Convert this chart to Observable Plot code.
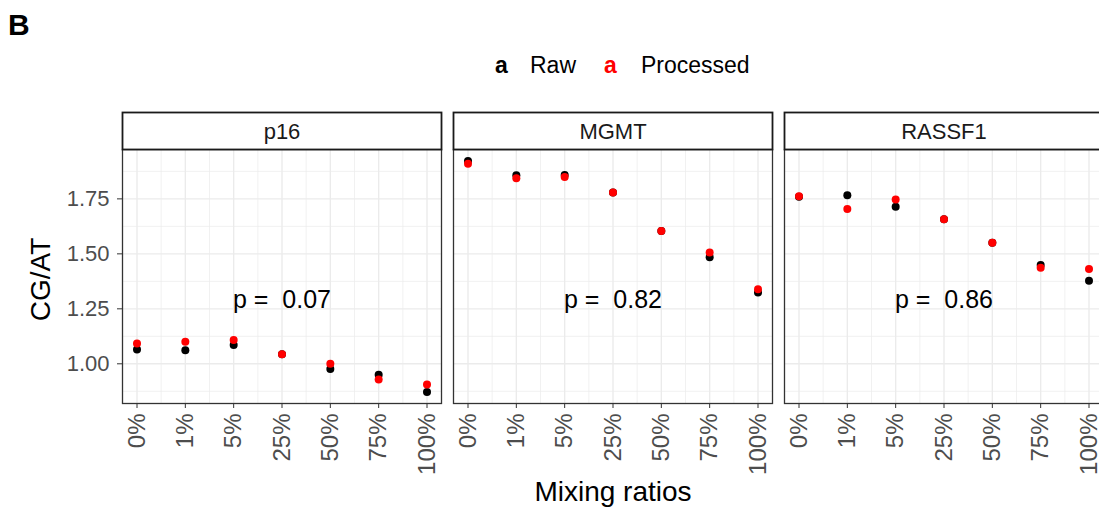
<!DOCTYPE html>
<html><head><meta charset="utf-8">
<script src="https://cdn.jsdelivr.net/npm/d3@7"></script>
<script src="https://cdn.jsdelivr.net/npm/@observablehq/plot@0.6"></script>
<style>
html,body{margin:0;padding:0;overflow:hidden;background:#fff;}
#wrap{position:relative;width:1099px;height:508px;overflow:hidden;font-family:"Liberation Sans",Arial,sans-serif;}
#wrap svg{display:block;max-width:none !important;}
svg text{white-space:pre;}
</style></head><body><div id="wrap"></div>
<script>
const genes = ["p16", "MGMT", "RASSF1"];
const ratios = ["0%", "1%", "5%", "25%", "50%", "75%", "100%"];
const rawP16 = [1.065, 1.062, 1.086, 1.044, 0.976, 0.950, 0.872];
const procP16 = [1.092, 1.100, 1.108, 1.044, 1.000, 0.929, 0.906];
const rawMGMT = [1.922, 1.857, 1.858, 1.779, 1.604, 1.485, 1.324];
const procMGMT = [1.910, 1.844, 1.850, 1.779, 1.604, 1.506, 1.339];
const rawRASSF1 = [1.760, 1.767, 1.714, 1.657, 1.550, 1.449, 1.378];
const procRASSF1 = [1.762, 1.704, 1.747, 1.657, 1.550, 1.437, 1.431];
const pValues = ["0.07", "0.82", "0.86"];
const yTicks = [1.00, 1.25, 1.50, 1.75];
const yMinor = [0.875, 1.125, 1.375, 1.625, 1.875];
const seriesNames = ["Raw", "Processed"];

const rawSeries = [rawP16, rawMGMT, rawRASSF1];
const procSeries = [procP16, procMGMT, procRASSF1];
function rowsOf(series) {
  const rows = [];
  series.forEach((vals, g) => vals.forEach((v, i) => rows.push({gene: genes[g], pos: i + 1, value: v})));
  return rows;
}
const rawRows = rowsOf(rawSeries);
const procRows = rowsOf(procSeries);
const pRows = genes.map((g, i) => ({gene: g, text: "p =  " + pValues[i]}));
const xTicks = ratios.map((_, i) => i + 1);
const xMinor = ratios.slice(1).map((_, i) => i + 1.5);

const all = rawRows.concat(procRows).map(d => d.value);
const lo = d3.min(all), hi = d3.max(all), pad = (hi - lo) * 0.05;
const xpad = (ratios.length - 1) * 0.05;

const font = '"Liberation Sans", Arial, sans-serif';
const wrap = d3.select("#wrap");

// header: panel letter + legend
const head = wrap.append("svg").attr("width", 1099).attr("height", 100).style("font-family", font);
head.append("text").attr("x", 8).attr("y", 35).attr("font-size", 30).attr("font-weight", "bold").text("B");
const legendColors = ["#000000", "#FF0000"];
const legendX = [[495, 530], [604, 641]];
seriesNames.forEach((name, i) => {
  head.append("text").attr("x", legendX[i][0]).attr("y", 73).attr("font-size", 23).attr("font-weight", "bold")
    .attr("fill", legendColors[i]).text("a");
  head.append("text").attr("x", legendX[i][1]).attr("y", 73).attr("font-size", 23).attr("fill", "#000").text(name);
});

const chart = Plot.plot({
  width: 1104, height: 408,
  marginTop: 49, marginBottom: 105, marginLeft: 122, marginRight: 1,
  style: {fontFamily: font, background: "transparent", overflow: "visible", maxWidth: "none"},
  fx: {domain: genes, paddingInner: 12 / 331, paddingOuter: 0, axis: null, label: null},
  x: {domain: [1 - xpad, ratios.length + xpad]},
  y: {domain: [lo - pad, hi + pad]},
  marks: [
    Plot.gridY(yMinor, {stroke: "#EBEBEB", strokeOpacity: 1, strokeWidth: 0.7}),
    Plot.gridX(xMinor, {stroke: "#EBEBEB", strokeOpacity: 1, strokeWidth: 0.7}),
    Plot.gridY(yTicks, {stroke: "#EBEBEB", strokeOpacity: 1, strokeWidth: 1.4}),
    Plot.gridX(xTicks, {stroke: "#EBEBEB", strokeOpacity: 1, strokeWidth: 1.4}),
    Plot.frame({stroke: "#333333", strokeWidth: 1.3}),
    Plot.frame({insetTop: -37, insetBottom: 254, fill: "white", stroke: "#1A1A1A", strokeWidth: 1.8}),
    Plot.text(genes, {fx: d => d, text: d => d, frameAnchor: "top", lineAnchor: "middle", dy: -18, fontSize: 22, fill: "#1A1A1A"}),
    Plot.axisY(yTicks, {tickFormat: d3.format(".2f"), tickSize: 5, tickPadding: 8, fontSize: 22, stroke: "#333333", fill: "#4D4D4D", label: null}),
    Plot.axisX(xTicks, {tickFormat: i => ratios[i - 1], tickRotate: -90, tickSize: 5, tickPadding: 5, fontSize: 24, stroke: "#333333", fill: "#4D4D4D", label: null}),
    Plot.dot(rawRows, {x: "pos", y: "value", fx: "gene", fill: "#000000", r: 4}),
    Plot.dot(procRows, {x: "pos", y: "value", fx: "gene", fill: "#FF0000", r: 4}),
    Plot.text(pRows, {fx: "gene", text: "text", frameAnchor: "middle", dy: 23, fontSize: 25, fill: "#000"}),
    Plot.text(["CG/AT"], {fx: () => "p16", text: d => d, frameAnchor: "left", textAnchor: "middle", lineAnchor: "middle", dx: -81, dy: 3, rotate: -90, fontSize: 28, fill: "#000"}),
    Plot.text(["Mixing ratios"], {fx: () => "MGMT", text: d => d, frameAnchor: "bottom", dy: 97, fontSize: 28, fill: "#000"})
  ]
});
wrap.node().appendChild(chart);
</script></body></html>
